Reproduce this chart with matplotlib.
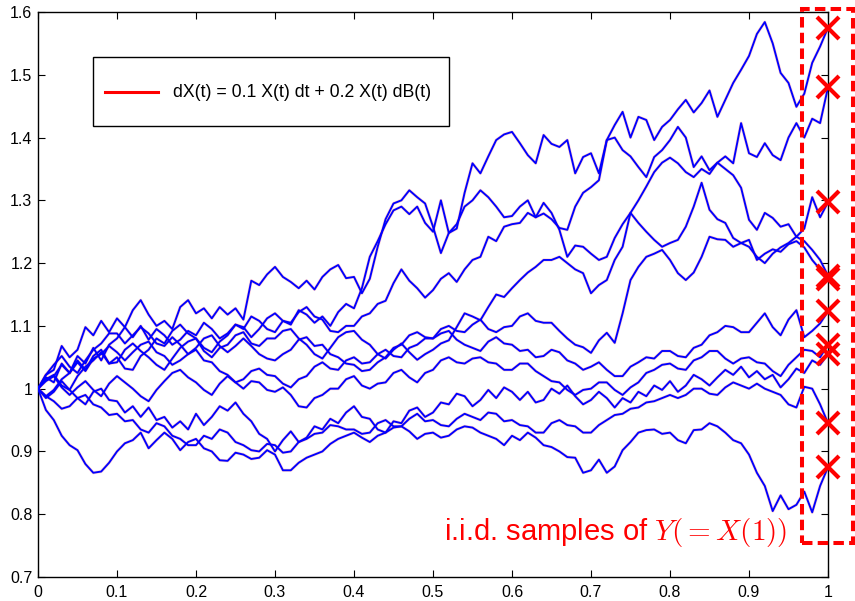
import matplotlib
matplotlib.use("Agg")
import matplotlib.pyplot as plt
from matplotlib.patches import Rectangle
from matplotlib.lines import Line2D
from matplotlib.ticker import FuncFormatter

plt.rcParams["font.family"] = ["Liberation Sans", "DejaVu Sans"]
plt.rcParams["mathtext.fontset"] = "cm"

# Sampling times of the simulated paths (step 0.01)
time = [0.00, 0.01, 0.02, 0.03, 0.04, 0.05, 0.06, 0.07, 0.08, 0.09,
        0.10, 0.11, 0.12, 0.13, 0.14, 0.15, 0.16, 0.17, 0.18, 0.19,
        0.20, 0.21, 0.22, 0.23, 0.24, 0.25, 0.26, 0.27, 0.28, 0.29,
        0.30, 0.31, 0.32, 0.33, 0.34, 0.35, 0.36, 0.37, 0.38, 0.39,
        0.40, 0.41, 0.42, 0.43, 0.44, 0.45, 0.46, 0.47, 0.48, 0.49,
        0.50, 0.51, 0.52, 0.53, 0.54, 0.55, 0.56, 0.57, 0.58, 0.59,
        0.60, 0.61, 0.62, 0.63, 0.64, 0.65, 0.66, 0.67, 0.68, 0.69,
        0.70, 0.71, 0.72, 0.73, 0.74, 0.75, 0.76, 0.77, 0.78, 0.79,
        0.80, 0.81, 0.82, 0.83, 0.84, 0.85, 0.86, 0.87, 0.88, 0.89,
        0.90, 0.91, 0.92, 0.93, 0.94, 0.95, 0.96, 0.97, 0.98, 0.99, 1.00]

# Ten sample paths of the geometric Brownian motion X(t)
path_a = [1.000, 1.022, 1.030, 1.068, 1.050, 1.062, 1.098, 1.085, 1.108, 1.090,
          1.112, 1.098, 1.125, 1.141, 1.118, 1.100, 1.108, 1.095, 1.130, 1.141,
          1.120, 1.128, 1.112, 1.130, 1.118, 1.128, 1.110, 1.172, 1.165, 1.182,
          1.194, 1.178, 1.170, 1.160, 1.172, 1.158, 1.178, 1.190, 1.197, 1.176,
          1.178, 1.152, 1.175, 1.226, 1.270, 1.295, 1.300, 1.316, 1.305, 1.295,
          1.258, 1.216, 1.248, 1.255, 1.312, 1.359, 1.343, 1.370, 1.396, 1.405,
          1.409, 1.391, 1.372, 1.359, 1.404, 1.390, 1.385, 1.396, 1.343, 1.369,
          1.375, 1.343, 1.396, 1.400, 1.380, 1.370, 1.353, 1.337, 1.369, 1.380,
          1.396, 1.417, 1.400, 1.353, 1.370, 1.348, 1.360, 1.370, 1.359, 1.423,
          1.375, 1.369, 1.391, 1.372, 1.364, 1.400, 1.423, 1.400, 1.430, 1.423,
          1.480]
path_b = [1.000, 1.018, 1.010, 1.040, 1.025, 1.052, 1.040, 1.065, 1.045, 1.070,
          1.080, 1.098, 1.082, 1.100, 1.078, 1.095, 1.085, 1.070, 1.078, 1.092,
          1.085, 1.105, 1.095, 1.080, 1.088, 1.102, 1.095, 1.115, 1.108, 1.095,
          1.090, 1.108, 1.102, 1.125, 1.118, 1.105, 1.115, 1.100, 1.122, 1.135,
          1.128, 1.160, 1.210, 1.235, 1.262, 1.284, 1.290, 1.278, 1.290, 1.264,
          1.250, 1.300, 1.248, 1.262, 1.290, 1.300, 1.316, 1.305, 1.290, 1.273,
          1.275, 1.290, 1.300, 1.273, 1.279, 1.270, 1.256, 1.253, 1.290, 1.312,
          1.321, 1.332, 1.396, 1.420, 1.441, 1.400, 1.433, 1.428, 1.396, 1.417,
          1.428, 1.445, 1.460, 1.440, 1.455, 1.475, 1.433, 1.460, 1.487, 1.508,
          1.530, 1.565, 1.584, 1.550, 1.503, 1.487, 1.449, 1.470, 1.519, 1.545,
          1.575]
path_c = [1.000, 0.988, 0.998, 1.015, 1.025, 1.045, 1.030, 1.052, 1.062, 1.040,
          1.050, 1.032, 1.030, 1.052, 1.062, 1.080, 1.072, 1.092, 1.102, 1.088,
          1.080, 1.065, 1.058, 1.075, 1.085, 1.102, 1.098, 1.082, 1.095, 1.112,
          1.120, 1.108, 1.105, 1.122, 1.130, 1.115, 1.110, 1.092, 1.090, 1.100,
          1.100, 1.115, 1.120, 1.135, 1.140, 1.168, 1.190, 1.172, 1.160, 1.145,
          1.157, 1.175, 1.184, 1.170, 1.190, 1.205, 1.210, 1.242, 1.235, 1.258,
          1.262, 1.264, 1.280, 1.273, 1.296, 1.280, 1.253, 1.210, 1.228, 1.226,
          1.215, 1.205, 1.210, 1.240, 1.262, 1.280, 1.300, 1.322, 1.345, 1.360,
          1.368, 1.359, 1.345, 1.337, 1.350, 1.342, 1.360, 1.350, 1.340, 1.320,
          1.269, 1.253, 1.280, 1.272, 1.258, 1.262, 1.242, 1.255, 1.305, 1.273,
          1.297]
path_d = [1.000, 1.015, 1.022, 1.005, 0.998, 1.020, 1.035, 1.045, 1.058, 1.040,
          1.042, 1.062, 1.072, 1.060, 1.050, 1.038, 1.030, 1.048, 1.065, 1.075,
          1.080, 1.060, 1.050, 1.065, 1.070, 1.085, 1.090, 1.072, 1.068, 1.080,
          1.080, 1.092, 1.095, 1.080, 1.070, 1.055, 1.048, 1.065, 1.082, 1.090,
          1.092, 1.078, 1.070, 1.055, 1.048, 1.062, 1.072, 1.058, 1.046, 1.055,
          1.062, 1.072, 1.077, 1.098, 1.120, 1.115, 1.109, 1.130, 1.150, 1.146,
          1.160, 1.173, 1.185, 1.194, 1.205, 1.205, 1.210, 1.200, 1.190, 1.184,
          1.152, 1.165, 1.173, 1.205, 1.226, 1.280, 1.264, 1.250, 1.237, 1.226,
          1.232, 1.237, 1.258, 1.290, 1.328, 1.285, 1.270, 1.264, 1.240, 1.232,
          1.226, 1.210, 1.200, 1.215, 1.225, 1.232, 1.242, 1.235, 1.221, 1.205,
          1.180]
path_e = [1.000, 1.022, 1.038, 1.052, 1.035, 1.025, 1.045, 1.062, 1.072, 1.088,
          1.088, 1.072, 1.085, 1.098, 1.088, 1.072, 1.068, 1.082, 1.070, 1.055,
          1.065, 1.080, 1.085, 1.068, 1.058, 1.068, 1.080, 1.068, 1.055, 1.048,
          1.045, 1.055, 1.062, 1.078, 1.082, 1.068, 1.070, 1.055, 1.050, 1.040,
          1.038, 1.028, 1.030, 1.042, 1.050, 1.065, 1.070, 1.085, 1.090, 1.082,
          1.080, 1.095, 1.100, 1.092, 1.090, 1.102, 1.110, 1.095, 1.090, 1.098,
          1.100, 1.115, 1.120, 1.108, 1.105, 1.105, 1.092, 1.080, 1.070, 1.066,
          1.057, 1.077, 1.089, 1.073, 1.120, 1.173, 1.194, 1.210, 1.215, 1.221,
          1.205, 1.184, 1.173, 1.185, 1.210, 1.242, 1.238, 1.237, 1.226, 1.232,
          1.237, 1.205, 1.215, 1.222, 1.218, 1.230, 1.235, 1.225, 1.205, 1.190,
          1.175]
path_f = [1.000, 1.012, 1.020, 1.038, 1.025, 1.042, 1.028, 1.048, 1.055, 1.068,
          1.058, 1.045, 1.058, 1.070, 1.075, 1.058, 1.052, 1.038, 1.045, 1.055,
          1.062, 1.045, 1.042, 1.028, 1.022, 1.010, 1.015, 1.028, 1.032, 1.022,
          1.020, 1.008, 1.002, 1.015, 1.020, 1.035, 1.042, 1.032, 1.030, 1.045,
          1.050, 1.040, 1.042, 1.055, 1.062, 1.052, 1.050, 1.065, 1.070, 1.080,
          1.080, 1.088, 1.092, 1.078, 1.070, 1.065, 1.060, 1.075, 1.082, 1.072,
          1.070, 1.060, 1.062, 1.050, 1.052, 1.062, 1.058, 1.045, 1.040, 1.030,
          1.035, 1.042, 1.030, 1.020, 1.020, 1.035, 1.042, 1.050, 1.048, 1.060,
          1.060, 1.052, 1.050, 1.065, 1.070, 1.085, 1.090, 1.100, 1.098, 1.090,
          1.090, 1.105, 1.120, 1.098, 1.085, 1.110, 1.125, 1.082, 1.092, 1.104,
          1.123]
path_g = [1.000, 1.015, 1.020, 1.002, 0.990, 1.002, 1.012, 0.998, 0.988, 1.008,
          1.020, 1.010, 1.000, 0.988, 0.980, 0.998, 1.012, 1.025, 1.030, 1.018,
          1.010, 0.998, 0.990, 1.008, 1.020, 1.010, 1.000, 1.012, 1.010, 0.998,
          0.995, 1.002, 0.990, 0.972, 0.970, 0.985, 0.990, 1.000, 1.000, 1.015,
          1.020, 1.005, 1.000, 1.008, 1.010, 1.025, 1.030, 1.018, 1.010, 1.025,
          1.030, 1.045, 1.050, 1.042, 1.040, 1.048, 1.050, 1.042, 1.040, 1.030,
          1.030, 1.040, 1.040, 1.028, 1.020, 1.012, 1.010, 0.998, 0.990, 0.998,
          1.000, 1.010, 1.010, 0.998, 0.990, 1.002, 1.010, 1.025, 1.030, 1.038,
          1.040, 1.032, 1.030, 1.045, 1.050, 1.060, 1.060, 1.048, 1.040, 1.048,
          1.050, 1.042, 1.040, 1.028, 1.020, 1.038, 1.050, 1.062, 1.060, 1.050,
          1.070]
path_h = [1.000, 0.985, 0.995, 1.012, 0.998, 0.985, 0.975, 0.995, 1.000, 0.982,
          0.980, 0.962, 0.972, 0.955, 0.970, 0.950, 0.955, 0.938, 0.948, 0.935,
          0.960, 0.942, 0.955, 0.972, 0.965, 0.978, 0.960, 0.948, 0.928, 0.920,
          0.900, 0.918, 0.932, 0.915, 0.922, 0.940, 0.935, 0.952, 0.945, 0.962,
          0.972, 0.955, 0.952, 0.935, 0.930, 0.948, 0.945, 0.965, 0.970, 0.955,
          0.962, 0.978, 0.975, 0.992, 0.988, 0.972, 0.982, 0.998, 0.985, 1.002,
          0.995, 0.982, 0.995, 0.978, 0.982, 1.000, 0.992, 1.005, 0.988, 0.975,
          0.982, 0.995, 0.985, 0.970, 0.985, 0.978, 0.995, 0.988, 1.005, 0.998,
          1.012, 0.995, 1.005, 1.022, 1.015, 1.005, 1.018, 1.030, 1.022, 1.035,
          1.018, 1.028, 1.015, 1.022, 1.002, 1.015, 1.032, 1.025, 1.045, 1.038,
          1.055]
path_i = [1.000, 0.988, 0.980, 0.968, 0.972, 0.985, 0.990, 0.975, 0.970, 0.958,
          0.960, 0.948, 0.950, 0.935, 0.930, 0.945, 0.940, 0.925, 0.920, 0.910,
          0.910, 0.925, 0.920, 0.935, 0.930, 0.915, 0.910, 0.902, 0.900, 0.912,
          0.910, 0.898, 0.900, 0.915, 0.920, 0.928, 0.930, 0.942, 0.940, 0.935,
          0.935, 0.928, 0.930, 0.945, 0.950, 0.940, 0.940, 0.952, 0.960, 0.948,
          0.950, 0.942, 0.940, 0.952, 0.960, 0.955, 0.950, 0.962, 0.960, 0.948,
          0.950, 0.942, 0.940, 0.930, 0.930, 0.945, 0.950, 0.942, 0.940, 0.930,
          0.930, 0.942, 0.950, 0.958, 0.960, 0.968, 0.970, 0.978, 0.980, 0.985,
          0.990, 0.985, 0.990, 1.000, 1.000, 0.992, 0.990, 1.002, 1.010, 1.005,
          1.000, 1.008, 1.000, 0.995, 0.990, 0.975, 0.970, 1.003, 1.000, 0.975,
          0.945]
path_j = [1.000, 0.966, 0.950, 0.925, 0.910, 0.902, 0.880, 0.866, 0.868, 0.882,
          0.900, 0.913, 0.918, 0.930, 0.905, 0.918, 0.930, 0.920, 0.902, 0.915,
          0.920, 0.905, 0.900, 0.886, 0.885, 0.898, 0.895, 0.888, 0.890, 0.902,
          0.895, 0.870, 0.870, 0.882, 0.890, 0.895, 0.900, 0.912, 0.920, 0.925,
          0.930, 0.922, 0.915, 0.925, 0.930, 0.938, 0.940, 0.932, 0.920, 0.928,
          0.930, 0.922, 0.925, 0.935, 0.940, 0.938, 0.930, 0.925, 0.920, 0.910,
          0.925, 0.918, 0.930, 0.922, 0.910, 0.907, 0.900, 0.891, 0.890, 0.866,
          0.870, 0.887, 0.866, 0.876, 0.902, 0.915, 0.930, 0.934, 0.935, 0.928,
          0.930, 0.918, 0.913, 0.934, 0.935, 0.945, 0.940, 0.930, 0.918, 0.913,
          0.895, 0.866, 0.845, 0.805, 0.830, 0.808, 0.815, 0.836, 0.803, 0.845,
          0.875]

paths = [path_a, path_b, path_c, path_d, path_e,
         path_f, path_g, path_h, path_i, path_j]

legend_label = "dX(t) = 0.1 X(t) dt + 0.2 X(t) dB(t)"
note_text = r"i.i.d. samples of $Y(= X(1))$"
x_ticks = [0, 0.1, 0.2, 0.3, 0.4, 0.5, 0.6, 0.7, 0.8, 0.9, 1]
y_ticks = [0.7, 0.8, 0.9, 1, 1.1, 1.2, 1.3, 1.4, 1.5, 1.6]

fig = plt.figure(figsize=(8.55, 6.01), dpi=100)
ax = fig.add_axes([38 / 855, 24 / 601, 790 / 855, 565 / 601])

for vals in paths:
    ax.plot(time, vals, color="#ff6060", lw=2.2, alpha=0.3,
            solid_joinstyle="round", zorder=2)
    ax.plot(time, vals, color="#0000ff", lw=1.35,
            solid_joinstyle="round", zorder=3)

# Terminal values X(1) of each path
end_t = [time[-1]] * len(paths)
end_x = [p[-1] for p in paths]
ax.plot(end_t, end_x, linestyle="none", marker="x", color="red",
        markersize=16, markeredgewidth=3.0, clip_on=False, zorder=6)

# Dashed frame around the terminal samples
box_x0, box_x1 = 0.9667, 1.032
box_y0, box_y1 = 0.7542, 1.6048
ax.add_patch(Rectangle((box_x0, box_y0), box_x1 - box_x0, box_y1 - box_y0,
                       fill=False, edgecolor="red", lw=2.9,
                       linestyle=(0, (2.6, 1.3)), clip_on=False, zorder=7))

ax.text(0.514, 0.759, note_text, color="red", fontsize=21,
        ha="left", va="baseline", zorder=8)

# Legend box
ax.add_patch(Rectangle((0.0696, 0.7982), 0.4507, 0.1222, transform=ax.transAxes,
                       facecolor="white", edgecolor="black", lw=1.0, zorder=9))
ax.add_line(Line2D([0.0848, 0.1519], [0.8584, 0.8584], transform=ax.transAxes,
                   color="red", lw=2.2, zorder=10))
ax.text(0.1709, 0.8584, legend_label, transform=ax.transAxes, fontsize=12.7,
        ha="left", va="center", zorder=10)

ax.set_xlim(0, 1)
ax.set_ylim(0.7, 1.6)
ax.set_xticks(x_ticks)
ax.set_yticks(y_ticks)
fmt = FuncFormatter(lambda v, p: f"{v:g}")
ax.xaxis.set_major_formatter(fmt)
ax.yaxis.set_major_formatter(fmt)
ax.tick_params(direction="in", top=True, right=True, length=5, width=0.8,
               labelsize=11.5)
ax.tick_params(axis="x", pad=6)
ax.tick_params(axis="y", pad=4)
for s in ax.spines.values():
    s.set_linewidth(1.0)

fig.savefig("out.png", dpi=100)
